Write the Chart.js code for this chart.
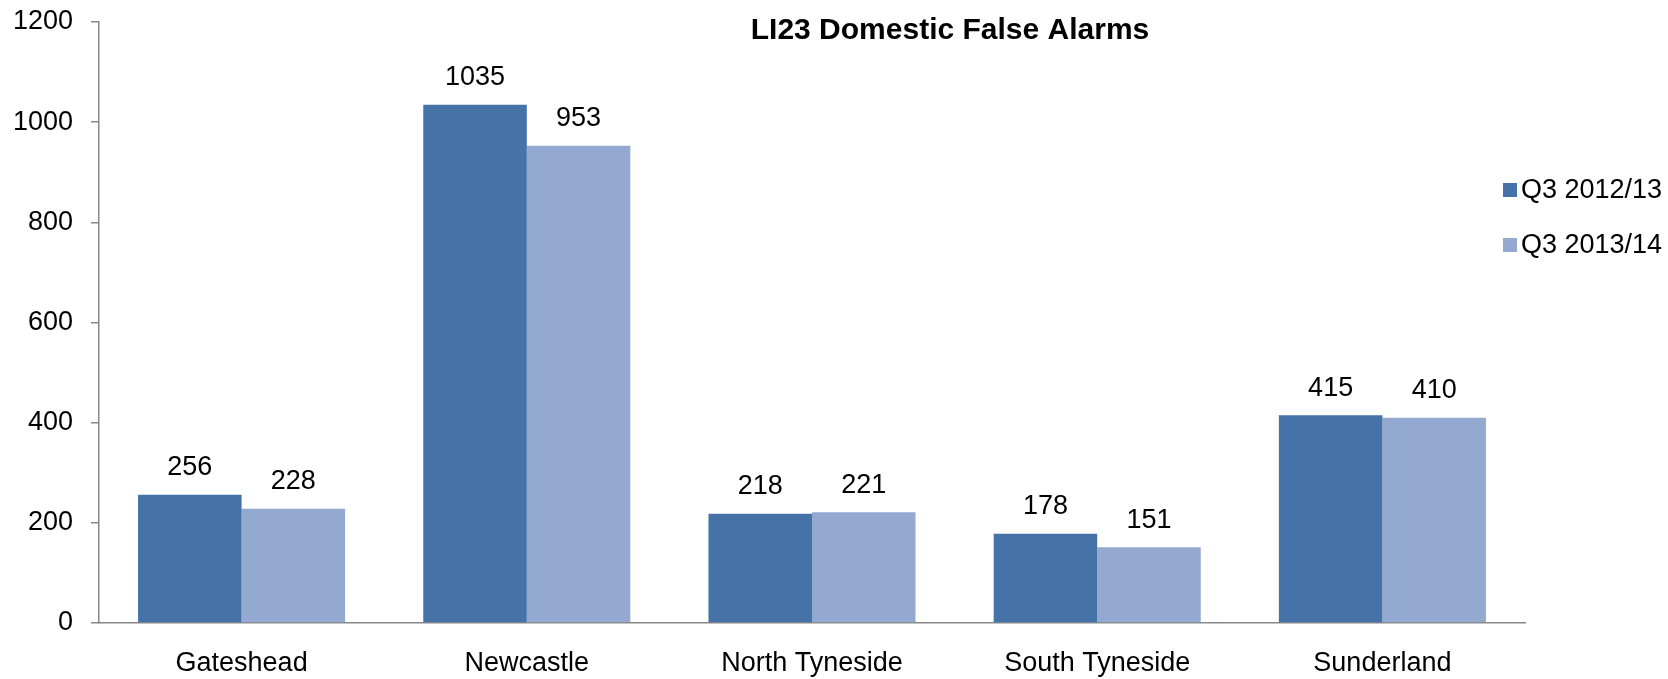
<!DOCTYPE html>
<html>
<head>
<meta charset="utf-8">
<script src="https://cdn.jsdelivr.net/npm/chart.js@4"></script>
<style>
  html, body { margin: 0; padding: 0; background: #fff; }
  #wrap { width: 1668px; height: 679px; }
</style>
</head>
<body>
<div id="wrap"><canvas id="alarms"></canvas></div>
<script>
let areas = ['Gateshead', 'Newcastle', 'North Tyneside', 'South Tyneside', 'Sunderland'];
let q3_2012 = [256, 1035, 218, 178, 415];
let q3_2013 = [228, 953, 221, 151, 410];
let series_names = ['Q3 2012/13', 'Q3 2013/14'];
let y_ticks = [0, 200, 400, 600, 800, 1000, 1200];

let font_family = '"Liberation Sans", Arial, sans-serif';

// numbers above the bars
let barValues = {
    id: 'barValues',
    afterDatasetsDraw(chart) {
        let ctx = chart.ctx;
        ctx.save();
        ctx.font = '27px ' + font_family;
        ctx.fillStyle = '#000';
        ctx.textAlign = 'center';
        ctx.textBaseline = 'middle';
        chart.data.datasets.forEach((ds, i) => {
            chart.getDatasetMeta(i).data.forEach((bar, j) => {
                ctx.fillText(ds.data[j], bar.x, bar.y - 27);
            });
        });
        ctx.restore();
    }
};

// title and legend sit over the plot, so draw them by hand
let overlay = {
    id: 'overlay',
    afterDraw(chart) {
        let ctx = chart.ctx;
        ctx.save();
        ctx.fillStyle = '#000';
        ctx.textAlign = 'center';
        ctx.textBaseline = 'middle';
        ctx.font = 'bold 30px ' + font_family;
        ctx.fillText('LI23 Domestic False Alarms', 950, 31);

        ctx.font = '27px ' + font_family;
        ctx.textAlign = 'left';
        chart.data.datasets.forEach((ds, i) => {
            let y = 190 + i * 55;
            ctx.fillStyle = ds.backgroundColor;
            ctx.fillRect(1503, y - 7, 14, 14);
            ctx.fillStyle = '#000';
            ctx.fillText(ds.label, 1521, y + 1);
        });
        ctx.restore();
    }
};

var ctx = document.getElementById('alarms');

var chart = new Chart(ctx, {
    type: 'bar',
    data: {
        labels: areas,
        datasets: [{
            label: series_names[0],
            data: q3_2012,
            backgroundColor: '#4572A7',
            borderWidth: 0
        }, {
            label: series_names[1],
            data: q3_2013,
            backgroundColor: '#93A9CF',
            borderWidth: 0
        }]
    },
    options: {
        responsive: true,
        maintainAspectRatio: false,
        animation: false,
        datasets: {
            bar: {
                categoryPercentage: 0.726,
                barPercentage: 1.0
            }
        },
        layout: {
            padding: { top: 22, right: 143, bottom: 0, left: 0 }
        },
        plugins: {
            legend: { display: false },
            title: { display: false },
            tooltip: { enabled: false }
        },
        scales: {
            x: {
                afterFit(scale) {
                    scale.height = 56;
                },
                grid: { display: false, drawTicks: false },
                border: { display: true, color: '#888', width: 1.5 },
                ticks: {
                    color: '#000',
                    padding: 24,
                    font: { family: font_family, size: 27 }
                }
            },
            y: {
                min: 0,
                max: 1200,
                afterBuildTicks(scale) {
                    scale.ticks = y_ticks.map(v => ({ value: v }));
                },
                afterFit(scale) {
                    scale.width = 99;
                    scale.paddingTop = 0;
                    scale.paddingBottom = 0;
                },
                grid: {
                    drawOnChartArea: false,
                    drawTicks: true,
                    tickLength: 8,
                    color: '#888',
                    lineWidth: 1.5
                },
                border: { display: true, color: '#888', width: 1.5 },
                ticks: {
                    color: '#000',
                    padding: 18,
                    font: { family: font_family, size: 27 },
                    callback: (v) => String(v)
                }
            }
        }
    },
    plugins: [barValues, overlay]
});
</script>
</body>
</html>
